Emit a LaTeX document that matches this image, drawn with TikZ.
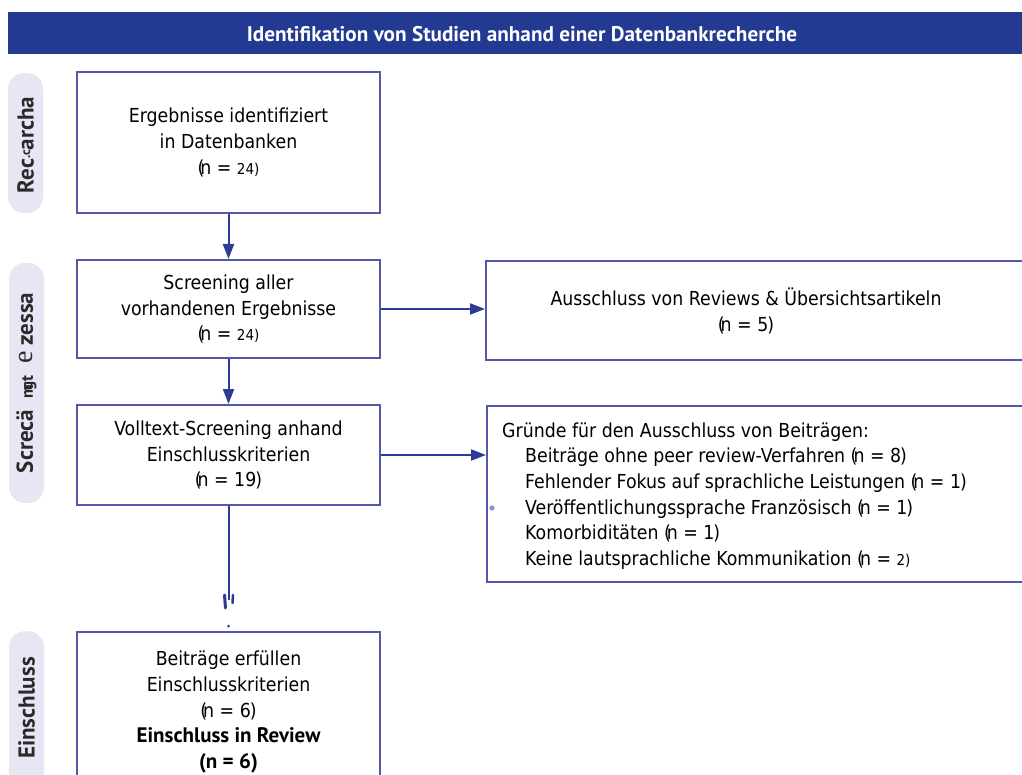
\documentclass[tikz,border=0pt]{standalone}
\usepackage{fontspec}
\setmainfont{DejaVu Sans Condensed}
\newfontfamily\hdfont{PT Sans}
\newfontfamily\serifx{Liberation Serif}
\usetikzlibrary{arrows.meta}
\definecolor{hdblue}{HTML}{233A92}
\definecolor{boxc}{HTML}{5558A8}
\definecolor{arrc}{HTML}{2B3B96}
\definecolor{pillc}{HTML}{E7E7F4}
\definecolor{bulc}{HTML}{8F8FD2}
\definecolor{lblc}{HTML}{2A2A2A}
\newcommand{\bodyfont}{\fontsize{19.3}{25.6}\selectfont}
\newcommand{\smn}[1]{{\fontsize{15}{15}\selectfont #1}}
\begin{document}
\begin{tikzpicture}[x=1pt,y=-1pt,
  box/.style={draw=boxc, line width=2pt, fill=white, minimum width=303pt, inner sep=0pt, align=center, font=\bodyfont},
  pill/.style={fill=pillc, rounded corners=16pt, minimum width=35pt, inner sep=0pt},
  lbl/.style={rotate=90, font=\hdfont\bfseries\fontsize{23}{24}\selectfont, text=lblc, inner sep=0pt},
  arr/.style={draw=arrc, line width=2pt, -{Triangle[length=15pt,width=11pt]}},
  txt/.style={font=\bodyfont, inner sep=0pt}
]
\useasboundingbox (0,0) rectangle (1022,775);
\fill[white] (0,0) rectangle (1022,775);

% header
\node[fill=hdblue, minimum width=1030pt, minimum height=42pt, anchor=north west, inner sep=0pt] (hdr) at (8,12) {};
\node[text=white, font=\hdfont\bfseries\fontsize{21.2}{23}\selectfont, inner sep=0pt] (hdrt) at (522,34) {Identifikation von Studien anhand einer Datenbankrecherche};

% side pills
\node[pill, minimum height=140pt] (p1) at (25.5,143) {};
\node[lbl] (l1) at (25.5,145) {Rec\raisebox{0.3ex}{\fontsize{13}{13}\selectfont .c}archa};
\node[pill, minimum height=240pt] (p2) at (26.5,383) {};
\node[lbl] (l2) at (26.5,383) {Screc\"a\ \ {\fontsize{17}{17}\selectfont m\kern-6pt gt}\ \ {\serifx\mdseries\fontsize{28}{28}\selectfont e}\ zessa};
\node[pill, minimum height=170pt, anchor=north] (p3) at (26.5,631) {};
\node[lbl] (l3) at (26.5,708) {Einschluss};

% main boxes
\node[box, minimum height=141pt] (b1) at (228.5,142.5) {Ergebnisse identifiziert\\in Datenbanken\\(\kern-4pt n = \smn{24)}};
\node[box, minimum height=98pt] (b2) at (228.5,309) {Screening aller\\vorhandenen Ergebnisse\\(\kern-4pt n = \smn{24)}};
\node[box, minimum height=100pt] (b3) at (228.5,455) {Volltext-Screening anhand\\Einschlusskriterien\\(\kern-4pt n = 19\kern-1pt)};
\node[box, minimum height=160pt, anchor=north] (b4) at (228.5,631) {Beiträge erfüllen\\Einschlusskriterien\\(\kern-4pt n = 6\kern-1pt)\\{\hdfont\bfseries\fontsize{21}{25.6}\selectfont Einschluss in Review}\\{\hdfont\bfseries\fontsize{21}{25.6}\selectfont (n = 6)}};

% right boxes
\node[box, minimum width=560pt, minimum height=99pt, anchor=north west] (r1) at (485,260) {};
\node[txt, align=center] (r1t) at (746,311) {Ausschluss von Reviews \& Übersichtsartikeln\\(\kern-4pt n = 5\kern-1pt)};
\node[box, minimum width=560pt, minimum height=176pt, anchor=north west] (r2) at (486,405) {};
\node[txt, align=left, anchor=west] (r2t) at (502,496) {Gründe für den Ausschluss von Beiträgen:\\
\hspace*{23pt}Beiträge ohne peer review-Verfahren (\kern-4pt n = 8\kern-1pt)\\
\hspace*{23pt}Fehlender Fokus auf sprachliche Leistungen (\kern-4pt n = 1\kern-1pt)\\
\hspace*{23pt}Veröffentlichungssprache Französisch (\kern-4pt n = 1\kern-1pt)\\
\hspace*{23pt}Komorbiditäten (\kern-4pt n = 1\kern-1pt)\\
\hspace*{23pt}Keine lautsprachliche Kommunikation (\kern-4pt n = \smn{2)}};
\fill[bulc] (492,508) circle (2.6pt);

% connectors
\draw[arr] (b1) -- (b2);
\draw[arr] (b2.east) -- (r1.west |- b2.east);
\draw[arr] (b2) -- (b3);
\draw[arr] (b3.east) -- (r2.west |- b3.east);
\coordinate (brk) at (228.5,600);
\draw[arrc, line width=2pt] (b3.south) -- (brk);
\draw[arrc, line width=3pt, line cap=round] (224.5,595) -- (225.5,608);
\draw[arrc, line width=2.5pt, line cap=round] (233,595) -- (232.5,603);
\fill[arrc] (228.5,626) circle (1.5pt);
\end{tikzpicture}
\end{document}
